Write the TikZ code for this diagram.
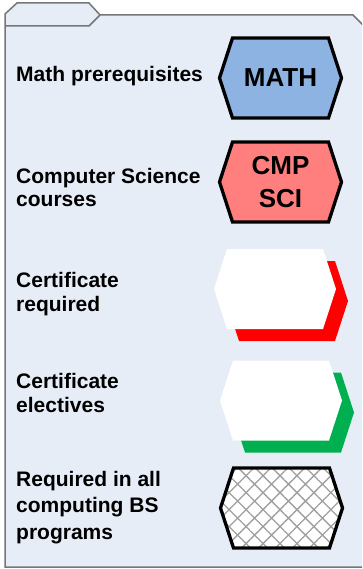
\documentclass[tikz,border=0pt]{standalone}
\usepackage{fontspec}
\setmainfont{Liberation Sans}
\usetikzlibrary{patterns.meta}
\definecolor{folderbg}{HTML}{E7EDF7}
\definecolor{folderline}{HTML}{767676}
\definecolor{mathblue}{HTML}{8DB3E2}
\definecolor{cmpred}{HTML}{FF7F7F}
\definecolor{certred}{HTML}{FF0000}
\definecolor{certgreen}{HTML}{00B050}
\begin{document}
\begin{tikzpicture}[x=1pt,y=-1pt,
  hexa/.style={insert path={(-61,0)--(-48,-40)--(48,-40)--(61,0)--(48,40)--(-48,40)--cycle}},
  hexline/.style={draw=black,line width=3.3pt,line join=miter},
  legendtext/.style={anchor=base west,align=left,inner sep=0pt,
    font=\fontsize{21}{24}\selectfont\bfseries},
  hextext/.style={align=center,inner sep=0pt,
    font=\fontsize{26}{33}\selectfont\bfseries},
  folder/.style={draw=folderline,line width=1.5pt,fill=folderbg,line join=miter}]
\useasboundingbox (0,0) rectangle (362,569);
\begin{scope}
\clip (0,0) rectangle (362,569);
% folder body
\path[folder] (5,567) -- (5,14) -- (17,3) -- (89,3) -- (100,15) -- (353,15) -- (380,42) -- (380,567) -- cycle;
\draw[draw=folderline,line width=1.5pt] (5,26) -- (89,26) -- (100,15);
\end{scope}
% legend texts (base anchor = baseline of the last line)
\node[legendtext] (tmath) at (16,82) {Math prerequisites};
\node[legendtext] (tcs) at (16,207) {Computer Science\\courses};
\node[legendtext] (treq) at (16,311) {Certificate\\required};
\node[legendtext] (telec) at (16,412) {Certificate\\electives};
\node[legendtext,font=\fontsize{21}{26.5}\selectfont\bfseries] (tall) at (16,539) {Required in all\\computing BS\\programs};
% MATH
\path[hexline,fill=mathblue,shift={(280.5,78)}] [hexa];
\node[hextext] (math) at (280.5,78) {MATH};
% CMP SCI
\path[hexline,fill=cmpred,shift={(280.5,182)}] [hexa];
\node[hextext] (cmpsci) at (280.5,182) {CMP\\SCI};
% certificate required
\path[fill=certred,shift={(287,301)}] [hexa];
\path[fill=white,shift={(275,289)}] [hexa];
\coordinate (req) at (275,289);
% certificate electives
\path[fill=certgreen,shift={(293,412.5)}] [hexa];
\path[fill=white,shift={(281,400.5)}] [hexa];
\coordinate (elec) at (281,400.5);
% required in all
\path[fill=white,shift={(281.5,508)}] [hexa];
\path[pattern={Hatch[angle=45,distance=12pt,line width=1.3pt]},pattern color=gray!75,shift={(281.5,508)}] [hexa];
\path[hexline,shift={(281.5,508)}] [hexa];
\coordinate (allbs) at (281.5,508);
\end{tikzpicture}
\end{document}
